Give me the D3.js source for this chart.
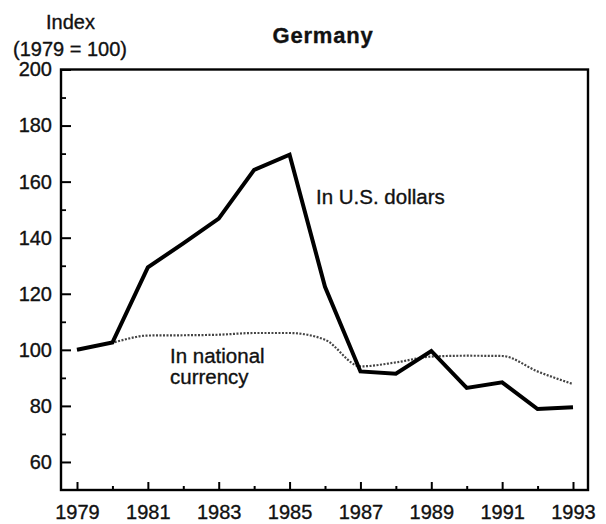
<!DOCTYPE html>
<html>
<head>
<meta charset="utf-8">
<script src="https://cdn.jsdelivr.net/npm/d3@7"></script>
<style>
  html, body { margin: 0; padding: 0; background: #fff; }
  svg { display: block; }
  text { font-family: "Liberation Sans", Arial, Helvetica, sans-serif; fill: #111; stroke: #111; stroke-width: 0.35px; }
</style>
</head>
<body>
<svg id="chart" width="606" height="524"></svg>
<script>
// ---- data ----
const years = [1979, 1980, 1981, 1982, 1983, 1984, 1985, 1986, 1987, 1988, 1989, 1990, 1991, 1992, 1993];
const usDollars = [100, 102.6, 129.4, 138, 146.8, 164.2, 169.6, 122.5, 92.3, 91.5, 99.6, 86.4, 88.4, 78.9, 79.5];
const nationalCurrency = [100, 102.6, 105.1, 105.2, 105.4, 106, 106, 103.6, 94.1, 95.5, 97.6, 97.9, 97.8, 92.3, 87.8];
const yTickLabels = [60, 80, 100, 120, 140, 160, 180, 200];
const yMinorTicks = [70, 90, 110, 130, 150, 170, 190];
const xTickLabels = [1979, 1981, 1983, 1985, 1987, 1989, 1991, 1993];
const xMinorTicks = [1980, 1982, 1984, 1986, 1988, 1990, 1992];
const title = "Germany";
const yTitle = ["Index", "(1979 = 100)"];
const seriesLabels = { us: "In U.S. dollars", nat: ["In national", "currency"] };

// ---- layout ----
const svg = d3.select("#chart");
const frame = { left: 61, right: 588, top: 69.5, bottom: 490 };
const x = d3.scaleLinear().domain([1979, 1993]).range([77, 573]);
const y = d3.scaleLinear().domain([50, 200]).range([frame.bottom, frame.top]);

// frame
svg.append("rect")
  .attr("x", frame.left).attr("y", frame.top)
  .attr("width", frame.right - frame.left).attr("height", frame.bottom - frame.top)
  .attr("fill", "none").attr("stroke", "#000").attr("stroke-width", 2.4);

// y axis (major, labelled)
const yAxis = svg.append("g").attr("transform", `translate(${frame.left},0)`)
  .call(d3.axisLeft(y).tickValues(yTickLabels).tickSize(-10).tickPadding(9).tickFormat(d3.format("d")));
yAxis.select(".domain").remove();
yAxis.selectAll(".tick line").attr("stroke", "#000").attr("stroke-width", 2);
yAxis.selectAll(".tick text").attr("font-size", 20).attr("font-family", "Liberation Sans, Arial, sans-serif").attr("fill", "#111");

// y minor ticks
const yMinor = svg.append("g").attr("transform", `translate(${frame.left},0)`)
  .call(d3.axisLeft(y).tickValues(yMinorTicks).tickSize(-5).tickFormat(""));
yMinor.select(".domain").remove();
yMinor.selectAll(".tick line").attr("stroke", "#000").attr("stroke-width", 1.8);

// x axis (major, labelled)
const xAxis = svg.append("g").attr("transform", `translate(0,${frame.bottom})`)
  .call(d3.axisBottom(x).tickValues(xTickLabels).tickSize(-8).tickPadding(15).tickFormat(d3.format("d")));
xAxis.select(".domain").remove();
xAxis.selectAll(".tick line").attr("stroke", "#000").attr("stroke-width", 2);
xAxis.selectAll(".tick text").attr("font-size", 20).attr("font-family", "Liberation Sans, Arial, sans-serif").attr("fill", "#111");

// x minor ticks
const xMinor = svg.append("g").attr("transform", `translate(0,${frame.bottom})`)
  .call(d3.axisBottom(x).tickValues(xMinorTicks).tickSize(-4).tickFormat(""));
xMinor.select(".domain").remove();
xMinor.selectAll(".tick line").attr("stroke", "#000").attr("stroke-width", 2);

// lines
const natData = years.map((yr, i) => ({ yr, v: nationalCurrency[i] }));
const usData = years.map((yr, i) => ({ yr, v: usDollars[i] }));

svg.append("path")
  .datum(natData)
  .attr("fill", "none")
  .attr("stroke", "#444")
  .attr("stroke-width", 2.2)
  .attr("stroke-dasharray", "2,1.5")
  .attr("d", d3.line().x(d => x(d.yr)).y(d => y(d.v)).curve(d3.curveMonotoneX));

svg.append("path")
  .datum(usData)
  .attr("fill", "none")
  .attr("stroke", "#000")
  .attr("stroke-width", 4)
  .attr("stroke-linejoin", "miter")
  .attr("d", d3.line().x(d => x(d.yr)).y(d => y(d.v)));

// title
svg.append("text")
  .attr("x", 323).attr("y", 43)
  .attr("text-anchor", "middle")
  .attr("font-size", 22).attr("font-weight", "bold")
  .attr("letter-spacing", 0.8)
  .text(title);

// y title
svg.append("text").attr("x", 70.5).attr("y", 28.5).attr("text-anchor", "middle")
  .attr("font-size", 20).text(yTitle[0]);
svg.append("text").attr("x", 70).attr("y", 55.5).attr("text-anchor", "middle")
  .attr("font-size", 20).text(yTitle[1]);

// series labels
svg.append("text").attr("x", 316).attr("y", 203.5).attr("font-size", 20.5).text(seriesLabels.us);
svg.append("text").attr("x", 170).attr("y", 362.7).attr("font-size", 20.5).text(seriesLabels.nat[0]);
svg.append("text").attr("x", 170).attr("y", 383.5).attr("font-size", 20.5).text(seriesLabels.nat[1]);
</script>
</body>
</html>
